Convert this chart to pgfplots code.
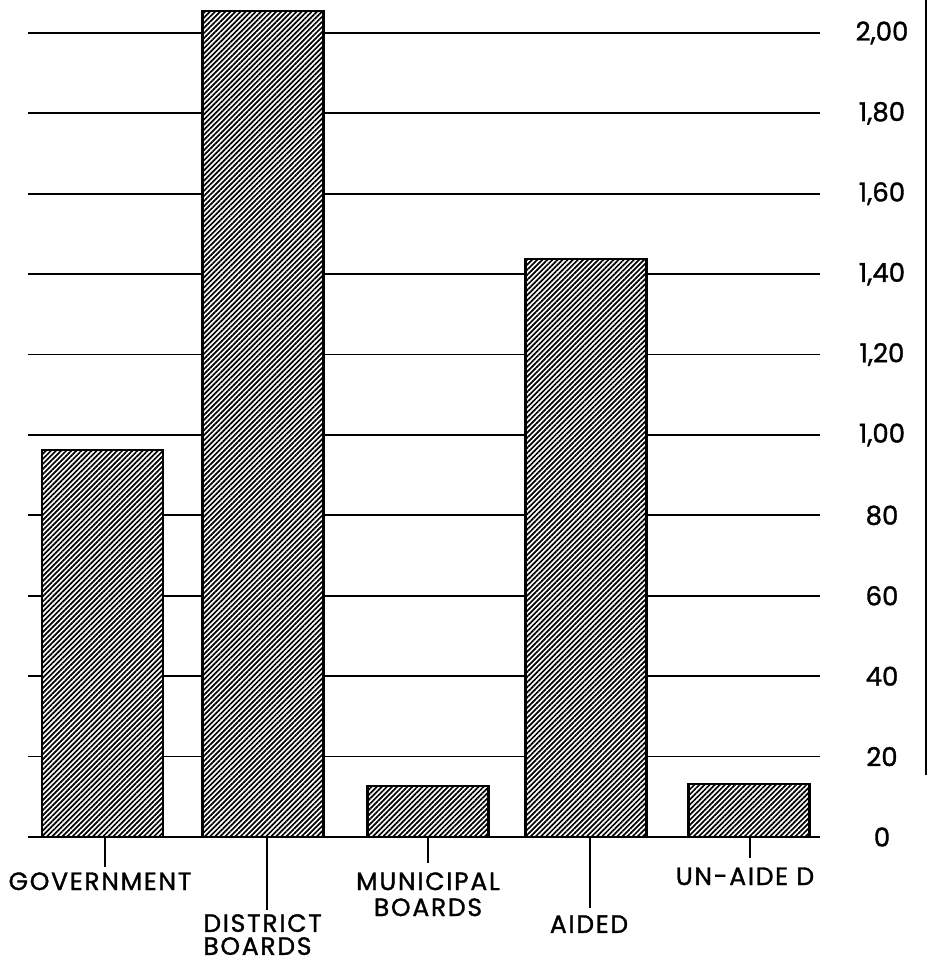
\documentclass[border=0pt]{standalone}
\usepackage{fontspec}
\setmainfont{Poppins}[FakeBold=1.3]
\newfontfamily\catfam{Poppins}[FakeBold=1.3, LetterSpace=7]
\usepackage{pgfplots}
\pgfplotsset{compat=1.18}
\usetikzlibrary{patterns.meta}
\newcommand{\catfont}{\catfam\fontsize{12.5}{12}\selectfont}
\begin{document}
\begin{tikzpicture}
\useasboundingbox (0,0) rectangle (464pt,482.5pt);
\begin{axis}[
 at={(14pt,64pt)}, anchor=south west,
 scale only axis, width=396pt, height=418.5pt,
 xmin=28, xmax=820, ymin=0, ymax=208.2,
 axis x line*=bottom, axis y line*=right,
 x axis line style={line width=1.3pt, -},
 y axis line style={draw=none},
 xtick=\empty,
 ytick={0,20,...,200},
 yticklabels={0,20,40,60,80,{1,00},{1,20},{1,40},{1,60},{1,80},{2,00}},
 major tick length=0pt,
 ymajorgrids, grid style={black, line width=0.9pt},
 yticklabel style={anchor=center, xshift=31pt, font=\fontsize{13}{13}\selectfont},
 clip=false,
 /pgf/number format/assume math mode=true,
]
\addplot[ybar, bar width=121, draw=black, line width=1.2pt, fill=white,
  postaction={pattern={Lines[angle=45,distance=1.8pt,line width=0.85pt]}, pattern color=black}]
  coordinates {(102.5,96.3) (263,205.5) (428,12.7) (586,143.8) (749,13.2)};
% category pointer lines
\draw[line width=1.2pt] (axis cs:105,0) -- (axis cs:105,-7.5);
\draw[line width=1.2pt] (axis cs:267,0) -- (axis cs:267,-18.2);
\draw[line width=1.2pt] (axis cs:428,0) -- (axis cs:428,-6.5);
\draw[line width=1.2pt] (axis cs:590,0) -- (axis cs:590,-17.7);
\draw[line width=1.2pt] (axis cs:750,0) -- (axis cs:750,-5.2);
\node[anchor=north, inner sep=0pt, font=\catfont] at (axis cs:100,-8.7) {GOVERNMENT};
\node[anchor=north west, inner sep=0pt, align=left, font=\catfam\fontsize{12.5}{11.5}\selectfont] at (axis cs:203,-19.1) {DISTRICT\\BOARDS};
\node[anchor=north, inner sep=0pt, align=center, font=\catfam\fontsize{12.5}{13}\selectfont] at (axis cs:428,-8.7) {MUNICIPAL\\BOARDS};
\node[anchor=north, inner sep=0pt, font=\catfont] at (axis cs:589,-19.4) {AIDED};
\node[anchor=north, inner sep=0pt, font=\catfont] at (axis cs:745,-7.5) {UN-AIDE D};
\end{axis}
\draw[line width=1.2pt] (463pt,482.5pt) -- (463pt,95pt);
\end{tikzpicture}
\end{document}
